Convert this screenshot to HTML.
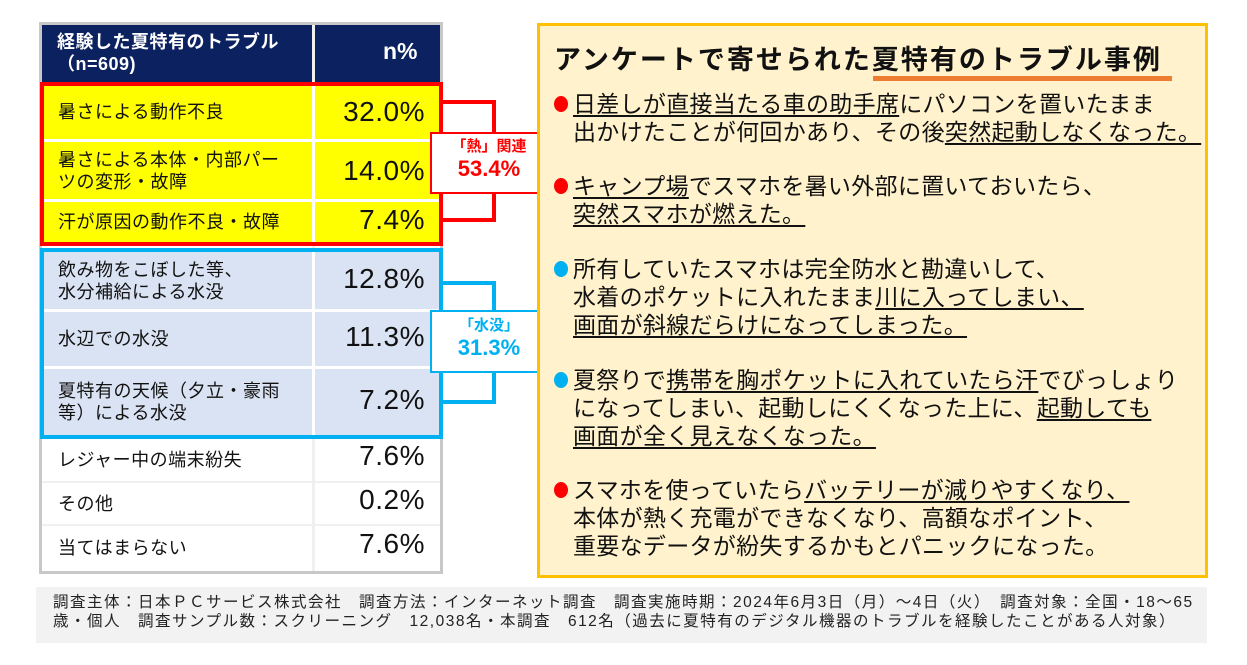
<!DOCTYPE html>
<html><head><meta charset="utf-8">
<style>
*{margin:0;padding:0;box-sizing:border-box}
body{width:1247px;height:665px;background:#fff;position:relative;font-family:"Liberation Sans","Noto Sans CJK JP",sans-serif;overflow:hidden}
.a{position:absolute}
.cell{position:absolute;display:flex;align-items:center;font-size:18px;letter-spacing:0.5px;color:#111;line-height:22px;padding-left:16px}
.pct{position:absolute;display:flex;align-items:center;justify-content:flex-end;font-size:28px;color:#111;padding-right:15px;letter-spacing:0.5px}
.ln{position:absolute;left:573px;font-size:23px;letter-spacing:0.3px;line-height:28px;color:#111;white-space:nowrap}
.u{text-decoration:underline;text-underline-offset:3px;text-decoration-thickness:1.5px}
.dot{position:absolute;left:554px;width:14px;height:16px;border-radius:50%}
</style></head><body>
<div class="a" style="left:39px;top:22px;width:404px;height:552px;border:3px solid #c8c8c8;background:#fff"></div>
<div class="a" style="left:42px;top:25px;width:398px;height:57px;background:#0c2260"></div>
<div class="a" style="left:312px;top:25px;width:3px;height:546px;background:#f0f0f0"></div>
<div class="a" style="left:57px;top:31px;color:#fff;font-weight:bold;font-size:18px;line-height:22px;letter-spacing:0.5px">経験した夏特有のトラブル<br>（n=609)</div>
<div class="a" style="left:383px;top:38px;color:#fff;font-weight:bold;font-size:23px">n%</div>
<div class="a" style="left:42px;top:84px;width:398px;height:158px;background:#ffff00"></div>
<div class="a" style="left:42px;top:139px;width:398px;height:3px;background:#fff"></div>
<div class="a" style="left:42px;top:199px;width:398px;height:3px;background:#fff"></div>
<div class="a" style="left:312px;top:84px;width:3px;height:158px;background:#fff"></div>
<div class="a" style="left:40px;top:82px;width:403px;height:164px;border:4px solid #ff0000"></div>
<div class="cell" style="left:42px;top:84px;width:270px;height:55px">暑さによる動作不良</div>
<div class="pct" style="left:315px;top:84px;width:125px;height:55px">32.0%</div>
<div class="cell" style="left:42px;top:142px;width:270px;height:57px">暑さによる本体・内部パー<br>ツの変形・故障</div>
<div class="pct" style="left:315px;top:142px;width:125px;height:57px">14.0%</div>
<div class="cell" style="left:42px;top:202px;width:270px;height:40px">汗が原因の動作不良・故障</div>
<div class="pct" style="left:315px;top:200px;width:125px;height:40px">7.4%</div>
<div class="a" style="left:42px;top:251px;width:398px;height:185px;background:#dae3f3"></div>
<div class="a" style="left:42px;top:309px;width:398px;height:3px;background:#fff"></div>
<div class="a" style="left:42px;top:366px;width:398px;height:3px;background:#fff"></div>
<div class="a" style="left:312px;top:251px;width:3px;height:185px;background:#fff"></div>
<div class="a" style="left:40px;top:248px;width:403px;height:191px;border:4px solid #00b0f0"></div>
<div class="cell" style="left:42px;top:252px;width:270px;height:57px">飲み物をこぼした等、<br>水分補給による水没</div>
<div class="pct" style="left:315px;top:250px;width:125px;height:57px">12.8%</div>
<div class="cell" style="left:42px;top:312px;width:270px;height:54px">水辺での水没</div>
<div class="pct" style="left:315px;top:310px;width:125px;height:54px">11.3%</div>
<div class="cell" style="left:42px;top:369px;width:270px;height:66px">夏特有の天候（夕立・豪雨<br>等）による水没</div>
<div class="pct" style="left:315px;top:367px;width:125px;height:66px">7.2%</div>
<div class="a" style="left:42px;top:481px;width:398px;height:2px;background:#f0f0f0"></div>
<div class="a" style="left:42px;top:524px;width:398px;height:2px;background:#f0f0f0"></div>
<div class="cell" style="left:42px;top:439px;width:270px;height:42px">レジャー中の端末紛失</div>
<div class="pct" style="left:315px;top:435px;width:125px;height:42px">7.6%</div>
<div class="cell" style="left:42px;top:483px;width:270px;height:41px">その他</div>
<div class="pct" style="left:315px;top:479px;width:125px;height:41px">0.2%</div>
<div class="cell" style="left:42px;top:526px;width:270px;height:44px">当てはまらない</div>
<div class="pct" style="left:315px;top:522px;width:125px;height:44px">7.6%</div>
<div class="a" style="left:443px;top:100px;width:53px;height:122px;border:4px solid #ff0000;border-left:none"></div>
<div class="a" style="left:430px;top:132px;width:118px;height:62px;border:2px solid #ff0000;background:#fff;color:#ff0000;font-weight:bold;text-align:center">
<div style="font-size:15px;margin-top:4px;line-height:18px">「熱」関連</div><div style="font-size:22px;line-height:26px">53.4%</div></div>
<div class="a" style="left:443px;top:281px;width:53px;height:123px;border:4px solid #00b0f0;border-left:none"></div>
<div class="a" style="left:430px;top:310px;width:118px;height:63px;border:2px solid #00b0f0;background:#fff;color:#00b0f0;font-weight:bold;text-align:center">
<div style="font-size:15px;margin-top:5px;line-height:18px">「水没」</div><div style="font-size:22px;line-height:26px">31.3%</div></div>
<div class="a" style="left:537px;top:23px;width:671px;height:555px;border:3px solid #ffc000;background:#fff2cc"></div>
<div class="a" style="left:554px;top:38px;font-size:27px;font-weight:bold;letter-spacing:2px;color:#111;white-space:nowrap">アンケートで寄せられた夏特有のトラブル事例</div>
<div class="a" style="left:873px;top:76px;width:299px;height:5px;background:#ed7d31"></div>

<div class="dot" style="top:96px;background:#ff0000"></div>
<div class="ln" style="top:90px"><span class="u">日差しが直接当たる車の助手席</span>にパソコンを置いたまま</div>
<div class="ln" style="top:118px">出かけたことが何回かあり、その後<span class="u">突然起動しなくなった。 </span></div>

<div class="dot" style="top:178px;background:#ff0000"></div>
<div class="ln" style="top:172px"><span class="u">キャンプ場</span>でスマホを暑い外部に置いておいたら、</div>
<div class="ln" style="top:200px"><span class="u">突然スマホが燃えた。 </span></div>

<div class="dot" style="top:261px;background:#00b0f0"></div>
<div class="ln" style="top:255px">所有していたスマホは完全防水と勘違いして、</div>
<div class="ln" style="top:283px">水着のポケットに入れたまま<span class="u">川に入ってしまい、</span></div>
<div class="ln" style="top:311px"><span class="u">画面が斜線だらけになってしまった。 </span></div>

<div class="dot" style="top:372px;background:#00b0f0"></div>
<div class="ln" style="top:366px">夏祭りで<span class="u">携帯を胸ポケットに入れていたら汗</span>でびっしょり</div>
<div class="ln" style="top:394px">になってしまい、起動しにくくなった上に、<span class="u">起動しても</span></div>
<div class="ln" style="top:422px"><span class="u">画面が全く見えなくなった。 </span></div>

<div class="dot" style="top:482px;background:#ff0000"></div>
<div class="ln" style="top:476px">スマホを使っていたら<span class="u">バッテリーが減りやすくなり、 </span></div>
<div class="ln" style="top:504px">本体が熱く充電ができなくなり、高額なポイント、</div>
<div class="ln" style="top:532px">重要なデータが紛失するかもとパニックになった。</div>
<div class="a" style="left:36px;top:587px;width:1171px;height:56px;background:#f2f2f2"></div>
<div class="a" style="left:53px;top:593px;font-size:15.5px;letter-spacing:1.5px;line-height:19px;color:#222;white-space:nowrap">調査主体：日本ＰＣサービス株式会社　調査方法：インターネット調査　調査実施時期：2024年6月3日（月）～4日（火）　調査対象：全国・18～65<br>歳・個人　調査サンプル数：スクリーニング　12,038名・本調査　612名（過去に夏特有のデジタル機器のトラブルを経験したことがある人対象）</div>
</body></html>
